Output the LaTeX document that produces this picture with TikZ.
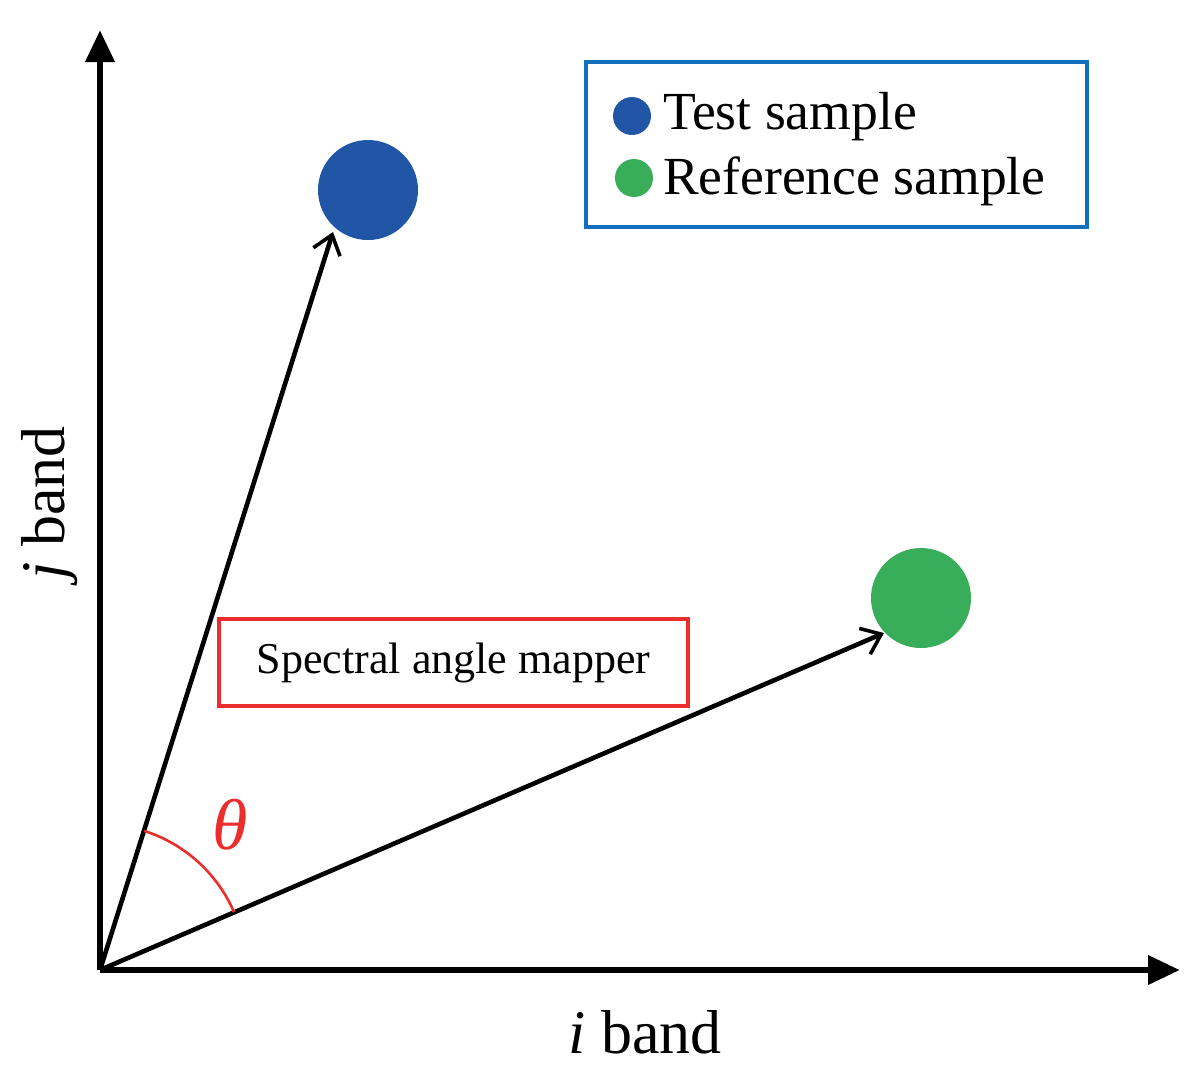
\documentclass[tikz,border=0pt]{standalone}
\usepackage{fontspec}
\setmainfont{Liberation Serif}
\usetikzlibrary{arrows.meta}
\definecolor{bl}{RGB}{33,85,165}
\definecolor{gr}{RGB}{56,173,90}
\definecolor{lb}{RGB}{20,110,190}
\definecolor{rd}{RGB}{235,45,45}
\begin{document}
\begin{tikzpicture}[x=0.5pt,y=-0.5pt,
  axis/.style={line width=3.4pt,-{Triangle[length=16pt,width=14pt]}},
  vec/.style={line width=2.3pt,-{Straight Barb[length=9pt,width=14pt,line width=1.8pt]}},
  dot/.style={circle,inner sep=0pt}]
\useasboundingbox (0,0) rectangle (1200,1084);
\coordinate (O) at (100,970);
\coordinate (Y) at (100,30);
\coordinate (X) at (1180,970);
\draw[axis] (O) -- (Y);
\draw[axis] (O) -- (X);
\node[dot,fill=bl,minimum size=50pt] (T) at (368,190) {};
\node[dot,fill=gr,minimum size=50pt] (R) at (921,598) {};
\coordinate (Te) at (333,232);
\coordinate (Re) at (884,633);
\draw[vec] (O) -- (Te);
\draw[vec] (O) -- (Re);
\draw[rd,line width=1.3pt] (O) ++(72.4:146 and -146) arc[start angle=72.4,end angle=23.3,radius=73pt];
\node[text=rd,font=\fontsize{36}{38}\selectfont\itshape] (th) at (230,825) {θ};
\node[draw=rd,line width=1.6pt,minimum width=234.5pt,minimum height=43.5pt,font=\fontsize{22}{24}\selectfont] (sam) at (453.5,662.5) {Spectral angle mapper};
\node[draw=lb,line width=1.6pt,minimum width=250.5pt,minimum height=82.5pt] (leg) at (836.5,144.5) {};
\node[dot,fill=bl,minimum size=19pt] (ld1) at (632,116) {};
\node[dot,fill=gr,minimum size=19pt] (ld2) at (634,178) {};
\node[anchor=west,font=\fontsize{26.8}{28}\selectfont] (lt1) at (656,117) {Test sample};
\node[anchor=west,font=\fontsize{26.8}{28}\selectfont] (lt2) at (656,181) {Reference sample};
\node[rotate=90,font=\fontsize{31}{33}\selectfont] (jb) at (50,503) {\textit{j} band};
\node[font=\fontsize{31}{33}\selectfont] (ib) at (645,1032) {\textit{i} band};
\end{tikzpicture}
\end{document}
